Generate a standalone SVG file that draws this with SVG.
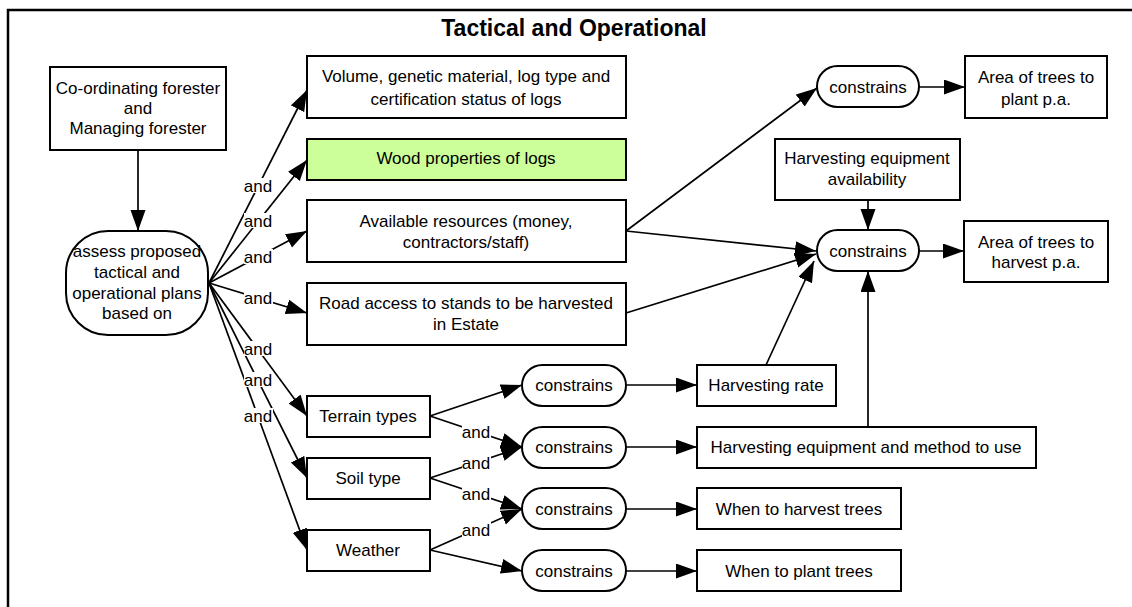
<svg xmlns="http://www.w3.org/2000/svg" width="1132" height="607" viewBox="0 0 1132 607">
  <style>
    text { font-family: "Liberation Sans", Arial, sans-serif; font-size: 17px; fill: #000; text-anchor: middle; }
    .title { font-weight: bold; font-size: 23px; }
    .box { fill: #fff; stroke: #000; stroke-width: 2; }
    .green { fill: #ccff99; }
    .edge { stroke: #000; stroke-width: 1.7; fill: none; marker-end: url(#arrow); }
    .lbl-bg { fill: #fff; }
  </style>
  <defs>
    <marker id="arrow" markerUnits="userSpaceOnUse" markerWidth="22" markerHeight="16" refX="21" refY="7.5" orient="auto">
      <path d="M0,0 L21,7.5 L0,15 z" fill="#000"/>
    </marker>
  </defs>

  <!-- outer frame and heading -->
  <path d="M8,610 L8,10 L1135,10" fill="none" stroke="#000" stroke-width="2.5"/>
  <text class="title" x="574" y="36">Tactical and Operational</text>

  <!-- connectors -->
  <g id="connectors">
    <line class="edge" x1="138" y1="150" x2="138" y2="231"/>
    <line class="edge" x1="209" y1="283" x2="307" y2="90"/>
    <line class="edge" x1="209" y1="283" x2="307" y2="160"/>
    <line class="edge" x1="209" y1="283" x2="307" y2="231"/>
    <line class="edge" x1="209" y1="283" x2="307" y2="313"/>
    <line class="edge" x1="209" y1="283" x2="307" y2="416"/>
    <line class="edge" x1="209" y1="283" x2="307" y2="478"/>
    <line class="edge" x1="209" y1="283" x2="307" y2="550"/>

    <line class="edge" x1="626" y1="231" x2="817" y2="88"/>
    <line class="edge" x1="626" y1="231" x2="816" y2="251"/>
    <line class="edge" x1="626" y1="313" x2="816" y2="254"/>
    <line class="edge" x1="766" y1="365" x2="814" y2="261"/>
    <line class="edge" x1="868" y1="200" x2="868" y2="230"/>
    <line class="edge" x1="868" y1="427" x2="868" y2="271"/>
    <line class="edge" x1="919" y1="87" x2="965" y2="87"/>
    <line class="edge" x1="919" y1="251" x2="964" y2="251"/>

    <line class="edge" x1="430" y1="416" x2="522" y2="385"/>
    <line class="edge" x1="430" y1="416" x2="522" y2="447"/>
    <line class="edge" x1="430" y1="478" x2="522" y2="447"/>
    <line class="edge" x1="430" y1="478" x2="522" y2="509"/>
    <line class="edge" x1="430" y1="550" x2="522" y2="509"/>
    <line class="edge" x1="430" y1="550" x2="522" y2="571"/>

    <line class="edge" x1="626" y1="385" x2="697" y2="385"/>
    <line class="edge" x1="626" y1="447" x2="697" y2="447"/>
    <line class="edge" x1="626" y1="509" x2="697" y2="509"/>
    <line class="edge" x1="626" y1="571" x2="697" y2="571"/>

    <!-- edge labels -->
    <g id="edge-labels">
      <rect class="lbl-bg" x="244" y="178" width="29" height="15"/><text x="258" y="192">and</text>
      <rect class="lbl-bg" x="244" y="213" width="29" height="15"/><text x="258" y="227">and</text>
      <rect class="lbl-bg" x="244" y="249" width="29" height="15"/><text x="258" y="263">and</text>
      <rect class="lbl-bg" x="244" y="290" width="29" height="15"/><text x="258" y="304">and</text>
      <rect class="lbl-bg" x="244" y="341" width="29" height="15"/><text x="258" y="355">and</text>
      <rect class="lbl-bg" x="244" y="372" width="29" height="15"/><text x="258" y="386">and</text>
      <rect class="lbl-bg" x="244" y="408" width="29" height="15"/><text x="258" y="422">and</text>
      <rect class="lbl-bg" x="462" y="424" width="29" height="15"/><text x="476" y="438">and</text>
      <rect class="lbl-bg" x="462" y="455" width="29" height="15"/><text x="476" y="469">and</text>
      <rect class="lbl-bg" x="462" y="486" width="29" height="15"/><text x="476" y="500">and</text>
      <rect class="lbl-bg" x="462" y="522" width="29" height="15"/><text x="476" y="536">and</text>
    </g>
  </g>

  <!-- nodes -->
  <g id="coordinating-forester">
    <rect class="box" x="50" y="67" width="176" height="83"/>
    <text x="138" y="94">Co-ordinating forester</text>
    <text x="138" y="114">and</text>
    <text x="138" y="134">Managing forester</text>
  </g>
  <g id="assess-plans">
    <rect class="box" x="66" y="231" width="142" height="104" rx="42" ry="42"/>
    <text x="137" y="257">assess proposed</text>
    <text x="137" y="278">tactical and</text>
    <text x="137" y="299">operational plans</text>
    <text x="137" y="319">based on</text>
  </g>
  <g id="volume">
    <rect class="box" x="307" y="56" width="319" height="62"/>
    <text x="466" y="82">Volume, genetic material, log type and</text>
    <text x="466" y="105">certification status of logs</text>
  </g>
  <g id="wood-properties">
    <rect class="box green" x="307" y="139" width="319" height="41"/>
    <text x="466" y="164">Wood properties of logs</text>
  </g>
  <g id="available-resources">
    <rect class="box" x="307" y="200" width="319" height="62"/>
    <text x="466" y="227">Available resources (money,</text>
    <text x="466" y="248">contractors/staff)</text>
  </g>
  <g id="road-access">
    <rect class="box" x="307" y="283" width="319" height="62"/>
    <text x="466" y="309">Road access to stands to be harvested</text>
    <text x="466" y="330">in Estate</text>
  </g>
  <g id="terrain">
    <rect class="box" x="307" y="396" width="123" height="41"/>
    <text x="368" y="422">Terrain types</text>
  </g>
  <g id="soil">
    <rect class="box" x="307" y="458" width="123" height="41"/>
    <text x="368" y="484">Soil type</text>
  </g>
  <g id="weather">
    <rect class="box" x="307" y="530" width="123" height="41"/>
    <text x="368" y="556">Weather</text>
  </g>

  <g id="constrains-plant">
    <rect class="box" x="817" y="66" width="102" height="41" rx="20.5"/>
    <text x="868" y="93">constrains</text>
  </g>
  <g id="area-plant">
    <rect class="box" x="965" y="56" width="142" height="62"/>
    <text x="1036" y="83">Area of trees to</text>
    <text x="1036" y="105">plant p.a.</text>
  </g>
  <g id="equipment-availability">
    <rect class="box" x="775" y="139" width="185" height="61"/>
    <text x="867" y="164">Harvesting equipment</text>
    <text x="867" y="185">availability</text>
  </g>
  <g id="constrains-harvest">
    <rect class="box" x="817" y="230" width="102" height="41" rx="20.5"/>
    <text x="868" y="257">constrains</text>
  </g>
  <g id="area-harvest">
    <rect class="box" x="964" y="221" width="144" height="61"/>
    <text x="1036" y="248">Area of trees to</text>
    <text x="1036" y="268">harvest p.a.</text>
  </g>

  <g id="constrains-rate">
    <rect class="box" x="522" y="365" width="104" height="41" rx="20.5"/>
    <text x="574" y="391">constrains</text>
  </g>
  <g id="constrains-method">
    <rect class="box" x="522" y="427" width="104" height="41" rx="20.5"/>
    <text x="574" y="453">constrains</text>
  </g>
  <g id="constrains-when-harvest">
    <rect class="box" x="522" y="488" width="104" height="41" rx="20.5"/>
    <text x="574" y="515">constrains</text>
  </g>
  <g id="constrains-when-plant">
    <rect class="box" x="522" y="550" width="104" height="41" rx="20.5"/>
    <text x="574" y="577">constrains</text>
  </g>

  <g id="harvesting-rate">
    <rect class="box" x="697" y="365" width="139" height="41"/>
    <text x="766" y="391">Harvesting rate</text>
  </g>
  <g id="harvesting-method">
    <rect class="box" x="697" y="427" width="339" height="41"/>
    <text x="866" y="453">Harvesting equipment and method to use</text>
  </g>
  <g id="when-harvest">
    <rect class="box" x="697" y="488" width="204" height="41"/>
    <text x="799" y="515">When to harvest trees</text>
  </g>
  <g id="when-plant">
    <rect class="box" x="697" y="550" width="204" height="41"/>
    <text x="799" y="577">When to plant trees</text>
  </g>
</svg>
